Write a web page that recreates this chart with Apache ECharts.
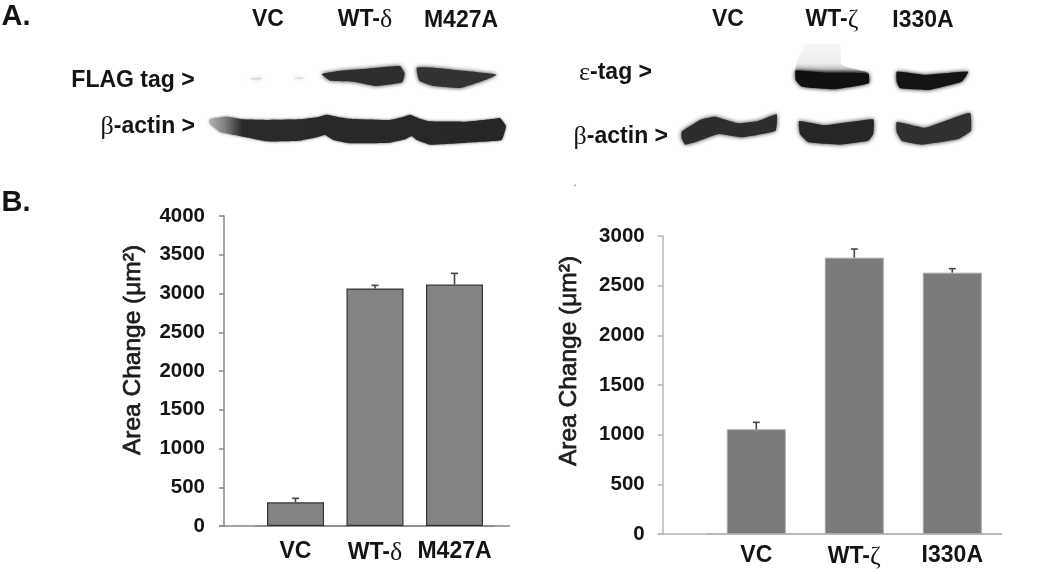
<!DOCTYPE html>
<html>
<head>
<meta charset="utf-8">
<script src="https://cdn.jsdelivr.net/npm/echarts@6/dist/echarts.min.js"></script>
<style>html,body{margin:0;padding:0;background:#fff}#c{width:1050px;height:574px}</style>
</head>
<body>
<div id="c"></div>
<script>
const catsLeft = ['VC', 'WT-δ', 'M427A'];
const valsLeft = [305, 3065, 3115];
const errsLeft = [52, 40, 145];
const ticksLeft = {min: 0, max: 4000, interval: 500};

const catsRight = ['VC', 'WT-ζ', 'I330A'];
const valsRight = [1054, 2782, 2631];
const errsRight = [70, 87, 40];
const ticksRight = {min: 0, max: 3000, interval: 500};

const FONT = '"Liberation Sans", Arial, sans-serif';
const SERIF = '"Liberation Serif", serif';
const INK = '#141414';

const chart = echarts.init(document.getElementById('c'), null, {renderer: 'canvas'});

function greekLabel(v) {
  return v.replace(/([δζ])/, '{g|$1}');
}
function errSeries(x, y, vals, errs, color) {
  return {
    type: 'custom', xAxisIndex: x, yAxisIndex: y, z: 5, silent: true,
    encode: {x: 0, y: [1, 2]},
    data: vals.map((v, i) => [i, v, v + errs[i]]),
    renderItem(params, api) {
      const a = api.coord([api.value(0), api.value(1)]);
      const b = api.coord([api.value(0), api.value(2)]);
      const st = {stroke: color, lineWidth: 1.6};
      return {type: 'group', children: [
        {type: 'line', shape: {x1: a[0], y1: a[1], x2: b[0], y2: b[1]}, style: st},
        {type: 'line', shape: {x1: b[0] - 3.5, y1: b[1], x2: b[0] + 3.5, y2: b[1]}, style: st}
      ]};
    }
  };
}
function xAxis(gridIndex, cats, color, margin) {
  return {
    type: 'category', gridIndex, data: cats,
    axisLine: {show: true, lineStyle: {color, width: 1.5}},
    axisTick: {show: false},
    axisLabel: {
      interval: 0, hideOverlap: false,
      margin, color: INK, fontFamily: FONT, fontWeight: 'bold', fontSize: 23,
      formatter: greekLabel,
      rich: {g: {fontFamily: SERIF, fontSize: 26, fontWeight: 'normal', color: INK}}
    }
  };
}
function yAxis(gridIndex, t, offset, color, margin) {
  return {
    type: 'value', gridIndex, min: t.min, max: t.max, interval: t.interval, offset,
    splitLine: {show: false},
    axisLine: {show: true, onZero: false, lineStyle: {color, width: 1.5}},
    axisTick: {show: true, length: 5, lineStyle: {color, width: 1.5}},
    axisLabel: {margin, color: INK, fontFamily: FONT, fontWeight: 'bold', fontSize: 20.5, formatter: v => String(v)}
  };
}
function txt(text, x, y, size) {
  return {
    type: 'text', x, y, silent: true,
    style: {text, fill: INK, font: 'bold ' + size + 'px ' + FONT, align: 'center', verticalAlign: 'middle'}
  };
}
function greekTxt(text, x, y, align) {
  return {
    type: 'text', x, y, silent: true,
    style: {
      text, fill: INK, font: 'bold 23px ' + FONT, align, verticalAlign: 'middle',
      rich: {g: {font: 'normal 26px ' + SERIF, fill: INK}}
    }
  };
}
function yTitle(x, y) {
  return {
    type: 'text', x, y, rotation: Math.PI / 2, silent: true,
    style: {text: 'Area Change (μm²)', fill: '#1c1c1c', font: 'normal 24.5px ' + FONT, align: 'center', verticalAlign: 'middle', stroke: '#1c1c1c', lineWidth: 0.7}
  };
}
function blot(zoomPts, fill, ox, blur, shadow) {
  return {
    type: 'polygon', silent: true,
    shape: {points: zoomPts.map(p => [ox + p[0] / 3, p[1] / 3]), smooth: 0.1},
    style: {fill, shadowBlur: blur === undefined ? 4 : blur, shadowColor: shadow || (typeof fill === 'string' ? fill : '#222')}
  };
}
const fadeActin = {type: 'linear', x: 0, y: 0, x2: 1, y2: 0, colorStops: [
  {offset: 0, color: '#b0b0b0'}, {offset: 0.05, color: '#808080'}, {offset: 0.11, color: '#2a2a2a'}, {offset: 1, color: '#262626'}]};
const paleTop = {type: 'linear', x: 0, y: 0, x2: 0, y2: 1, colorStops: [
  {offset: 0, color: 'rgba(240,240,240,0.6)'}, {offset: 0.65, color: '#eeeeee'}, {offset: 0.85, color: '#c4c4c4'}, {offset: 1, color: '#555'}]};

const blots = [
  blot([[965,222],[1020,212],[1100,206],[1200,198],[1214,220],[1207,247],[1130,258],[1060,245],[990,242]], '#2e2e2e', 0),
  blot([[1250,203],[1300,203],[1400,213],[1490,224],[1450,242],[1380,264],[1300,258],[1258,242]], '#333', 0),
  blot([[630,358],[680,350],[730,358],[800,360],[900,358],[950,352],[980,344],[1010,350],[1050,356],[1170,360],[1205,352],[1230,344],[1260,356],[1290,364],[1400,365],[1470,358],[1500,354],[1518,378],[1505,420],[1400,428],[1290,434],[1250,420],[1235,408],[1215,418],[1170,428],[1050,430],[1000,420],[975,405],[950,412],[900,422],[800,424],[720,408],[660,395],[630,370]], fadeActin, 0, 3, '#555'),
  blot([[755,234],[785,233],[785,238],[755,239]], '#d4d4d4', 0),
  blot([[885,232],[910,231],[910,236],[885,237]], '#e2e2e2', 0),
  blot([[840,135],[945,135],[950,195],[1030,218],[810,218],[815,190]], paleTop, 525, 0),
  blot([[812,212],[900,218],[1030,220],[1032,250],[930,268],[830,260],[812,240]], '#111', 525),
  blot([[1115,215],[1200,225],[1330,215],[1310,245],[1210,270],[1125,265],[1115,245]], '#141414', 525),
  blot([[470,395],[530,358],[570,350],[640,370],[700,363],[755,343],[752,392],[650,412],[580,402],[510,427],[480,434],[470,415]], '#2d2d2d', 525),
  blot([[822,363],[900,376],[1045,358],[1045,402],[1030,422],[940,434],[850,427],[825,402]], '#262626', 525),
  blot([[1115,366],[1200,383],[1335,338],[1338,392],[1300,417],[1190,434],[1130,422],[1115,397]], '#303030', 525)
];
const texts = [
  txt('A.', 16, 17, 29),
  txt('B.', 16, 203, 29),
  txt('VC', 268, 20, 23),
  greekTxt('WT-{g|δ}', 365, 20, 'center'),
  txt('M427A', 461, 21, 23),
  txt('VC', 728, 20, 23),
  greekTxt('WT-{g|ζ}', 832, 20, 'center'),
  txt('I330A', 923, 21, 23),
  txt('FLAG tag >', 133, 81, 23),
  greekTxt('{g|β}-actin >', 195, 127, 'right'),
  greekTxt('{g|ε}-tag >', 652, 73, 'right'),
  greekTxt('{g|β}-actin >', 668, 137, 'right'),
  yTitle(133, 350),
  yTitle(569, 361),
  {type: 'line', silent: true, shape: {x1: 219, y1: 526, x2: 510, y2: 526}, style: {stroke: '#888', lineWidth: 1.5}, z: 1},
  {type: 'line', silent: true, shape: {x1: 658, y1: 534, x2: 1002, y2: 534}, style: {stroke: '#b4b4b4', lineWidth: 1.5}, z: 1},
  {type: 'rect', silent: true, shape: {x: 574.5, y: 184.5, width: 1.5, height: 1.5}, style: {fill: '#999'}}
];

chart.setOption({
  animation: false,
  backgroundColor: '#fff',
  grid: [
    {left: 255.75, top: 216, width: 238.5, height: 310},
    {left: 707.3, top: 236, width: 294, height: 298}
  ],
  xAxis: [xAxis(0, catsLeft, '#888', 14), xAxis(1, catsRight, '#b4b4b4', 10)],
  yAxis: [yAxis(0, ticksLeft, 31.75, '#888', 19), yAxis(1, ticksRight, 44.6, '#b4b4b4', 18)],
  series: [
    {type: 'bar', xAxisIndex: 0, yAxisIndex: 0, data: valsLeft, barWidth: 57,
      itemStyle: {color: '#858285', borderColor: '#333', borderWidth: 1.2}},
    {type: 'bar', xAxisIndex: 1, yAxisIndex: 1, data: valsRight, barWidth: 59,
      itemStyle: {color: '#7a7c79', borderColor: '#a8a8a8', borderWidth: 1}},
    errSeries(0, 0, valsLeft, errsLeft, '#444'),
    errSeries(1, 1, valsRight, errsRight, '#444')
  ],
  graphic: {elements: blots.concat(texts)}
});
</script>
</body>
</html>
